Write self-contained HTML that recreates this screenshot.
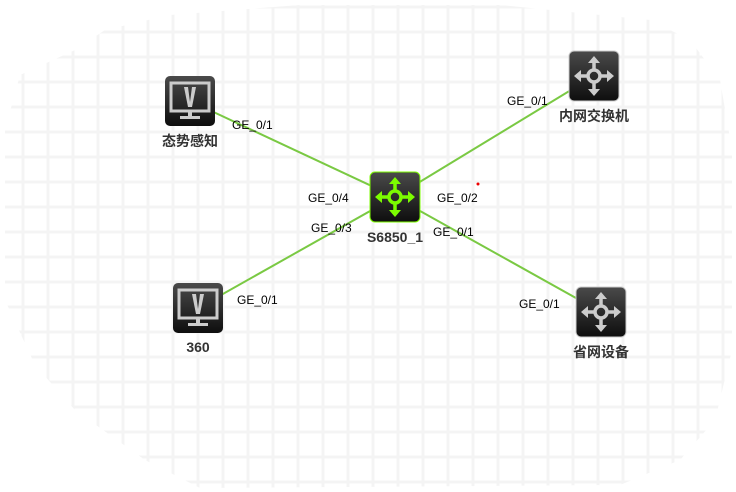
<!DOCTYPE html>
<html><head><meta charset="utf-8"><style>
html,body{margin:0;padding:0;background:#fff;width:736px;height:492px;overflow:hidden}
svg text{font-family:"Liberation Sans","Noto Sans CJK SC",sans-serif}
</style></head><body>
<svg width="736" height="492" viewBox="0 0 736 492" xmlns="http://www.w3.org/2000/svg">
<defs>
<clipPath id="c"><path d="M20,75 L75,50 L105,30 L170,15 L300,5 L500,5 L650,20 L690,40 L720,80 L732,150 L732,350 L715,420 L680,460 L620,485 L200,488 L145,460 L75,410 L35,365 L5,300 L5,130 Z"/></clipPath>
<pattern id="g" x="21.5" y="5.5" width="25" height="25" patternUnits="userSpaceOnUse">
<rect x="0" y="0" width="3" height="25" fill="#f4f4f4"/><rect x="0" y="0" width="25" height="3" fill="#f4f4f4"/>
</pattern>
<linearGradient id="bg" x1="0" y1="0" x2="0" y2="1"><stop offset="0" stop-color="#4a4a4a"/><stop offset="1" stop-color="#0e0e0e"/></linearGradient>
<g id="sw" >
<rect x="0" y="0" width="50" height="50" rx="5" fill="url(#bg)"/>
<g fill="none" stroke-width="3.5"><circle cx="25" cy="25" r="6"/><path d="M25,19 V8 M25,31 V42 M19,25 H8 M31,25 H42"/></g>
<path d="M25,5 L19,12 L31,12Z M25,45 L19,38 L31,38Z M5,25 L12,19 L12,31Z M45,25 L38,19 L38,31Z" stroke="none"/>
</g>
<g id="pc">
<rect x="0" y="0" width="50" height="50" rx="5" fill="url(#bg)"/>
<rect x="6" y="7" width="38" height="28" fill="none" stroke="#ccc" stroke-width="3"/>
<path d="M19,11 H23 L25,26 L27,11 H31 L27,31 H23Z" fill="#ccc"/>
<rect x="23" y="36" width="4" height="4" fill="#ccc"/><rect x="15" y="40" width="20" height="3" fill="#ccc"/>
</g>
</defs>
<rect x="0" y="0" width="736" height="492" fill="url(#g)" clip-path="url(#c)"/>
<g stroke="#7ac943" stroke-width="2">
<line x1="190" y1="101" x2="395" y2="197"/>
<line x1="395" y1="197" x2="594" y2="76"/>
<line x1="395" y1="197" x2="198" y2="308"/>
<line x1="395" y1="197" x2="601" y2="312"/>
</g>
<circle cx="478" cy="184" r="1.5" fill="#e00"/>
<use href="#pc" x="165" y="76"/>
<use href="#pc" x="173" y="283"/>
<g fill="#7cfc00" stroke="#7cfc00"><use href="#sw" x="370" y="172"/></g>
<g fill="#ccc" stroke="#ccc"><use href="#sw" x="569" y="51"/><use href="#sw" x="576" y="287"/></g>
<g font-size="12" fill="#000">
<text x="232" y="129">GE_0/1</text>
<text x="308" y="202">GE_0/4</text>
<text x="311" y="232">GE_0/3</text>
<text x="237" y="304">GE_0/1</text>
<text x="507" y="105">GE_0/1</text>
<text x="437" y="202">GE_0/2</text>
<text x="433" y="236">GE_0/1</text>
<text x="519" y="308">GE_0/1</text>
</g>
<g font-size="14" font-weight="bold" fill="#333" text-anchor="middle">
<text x="190" y="146">态势感知</text>
<text x="395" y="242">S6850_1</text>
<text x="594" y="121">内网交换机</text>
<text x="198" y="352">360</text>
<text x="601" y="357">省网设备</text>
</g>
</svg>
</body></html>
